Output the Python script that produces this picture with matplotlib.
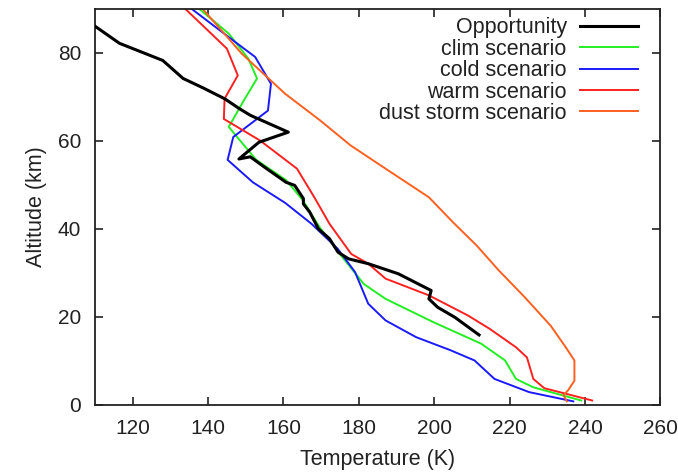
import matplotlib
matplotlib.use("Agg")
import matplotlib.pyplot as plt

plt.rcParams['font.family'] = ['Liberation Sans', 'DejaVu Sans']

# Opportunity profile
opp_T = [110, 116.5, 128, 133.4, 138.6, 144.4, 148.4, 151.3, 161.3, 153.5, 148.2, 151.2,
         154.9, 160.7, 163, 165.3, 165.3, 167, 169.3, 172.2, 174.5, 177.3, 182.5, 190.5,
         199.2, 198.6, 200.9, 205.5, 211.9]
opp_z = [86.1, 82.2, 78.3, 74.2, 72.1, 69.6, 67.3, 65.8, 62.0, 59.7, 55.9, 56.4,
         54.1, 50.6, 49.9, 46.9, 45.7, 43.8, 40.0, 37.8, 34.7, 33.2, 32.1, 29.8,
         26.0, 24.1, 22.2, 19.9, 15.9]

clim_T = [137.7, 145.5, 150.7, 153, 149.5, 145.5, 148.4, 152.8, 160.7, 165.1, 169.5,
          174.8, 181.3, 187.1, 199.8, 212.5, 218.8, 221.7, 226.3, 239]
clim_z = [90, 84.4, 78.7, 74.2, 69.2, 63.2, 60.2, 55.7, 51.1, 46.6, 40.5,
          34.5, 27.5, 24.1, 18.8, 13.9, 10.1, 5.9, 4.0, 1.0]

cold_T = [135.7, 145.5, 152.5, 156.7, 155.9, 146.7, 145.2, 151.9, 160.5, 167.4, 174.4,
          179, 182.5, 187.1, 195.2, 204.4, 210.7, 216, 225.2, 236.9]
cold_z = [90, 83.6, 79.1, 73, 66.9, 60.9, 55.7, 50.6, 45.9, 41.2, 35.5,
          30.2, 23, 19.2, 15.4, 12.4, 10.1, 5.9, 2.9, 0.8]

warm_T = [134, 145, 147.9, 144.4, 144.2, 153.8, 163.6, 168.2, 172.2, 178, 182.5, 187.1,
          198.6, 209, 214.7, 221.7, 224.6, 226.3, 229.2, 241.9]
warm_z = [90, 81, 74.9, 69.6, 65, 60.1, 53.7, 47.2, 41.2, 34.3, 32.1, 28.7,
          24.9, 20.3, 17.3, 13.1, 10.8, 5.9, 3.8, 1.0]

dust_T = [138.6, 149, 160.5, 169.7, 177.8, 187.1, 198.6, 205, 211.3, 217.1, 224, 230.9,
          234.9, 237.2, 237.2, 235.5, 234.3, 235.2]
dust_z = [90, 79.8, 70.7, 64.7, 59.0, 53.7, 47.2, 41.5, 36.2, 30.6, 24.5, 18.0,
          13.1, 10.1, 5.5, 3.3, 2.2, 0.8]

labels = ["Opportunity", "clim scenario", "cold scenario", "warm scenario", "dust storm scenario"]
x_ticks = [120, 140, 160, 180, 200, 220, 240, 260]
y_ticks = [0, 20, 40, 60, 80]

fig = plt.figure(figsize=(6.78, 4.73), dpi=100)
ax = fig.add_axes([0.140, 0.144, 0.834, 0.837])

ax.plot(opp_T, opp_z, color='black', lw=2.2, label=labels[0], zorder=5)
ax.plot(clim_T, clim_z, color='#22ee22', lw=1.4, label=labels[1])
ax.plot(cold_T, cold_z, color='#1a1aff', lw=1.4, label=labels[2])
ax.plot(warm_T, warm_z, color='#ff2020', lw=1.4, label=labels[3])
ax.plot(dust_T, dust_z, color='#ff6020', lw=1.4, label=labels[4])

ax.set_xlim(110, 260)
ax.set_ylim(0, 90)
ax.set_xticks(x_ticks)
ax.set_yticks(y_ticks)
ax.tick_params(direction='in', length=6, width=1.2, top=True, right=True,
               labelsize=15, pad=10, colors='#222222', labelcolor='#222222')
for s in ax.spines.values():
    s.set_linewidth(1.3)
    s.set_color('#222222')

ax.set_xlabel("Temperature (K)", fontsize=15.5, color='#222222', labelpad=8)
ax.set_ylabel("Altitude (km)", fontsize=15.5, color='#222222', labelpad=8)

leg = ax.legend(loc='upper right', frameon=False, markerfirst=False, fontsize=15.5,
                handlelength=2.7, handletextpad=0.6, labelspacing=0.02,
                borderpad=0.0, borderaxespad=0.0, bbox_to_anchor=(0.960, 0.979))
for t in leg.get_texts():
    t.set_color('#222222')

fig.savefig("out.png", dpi=100)
